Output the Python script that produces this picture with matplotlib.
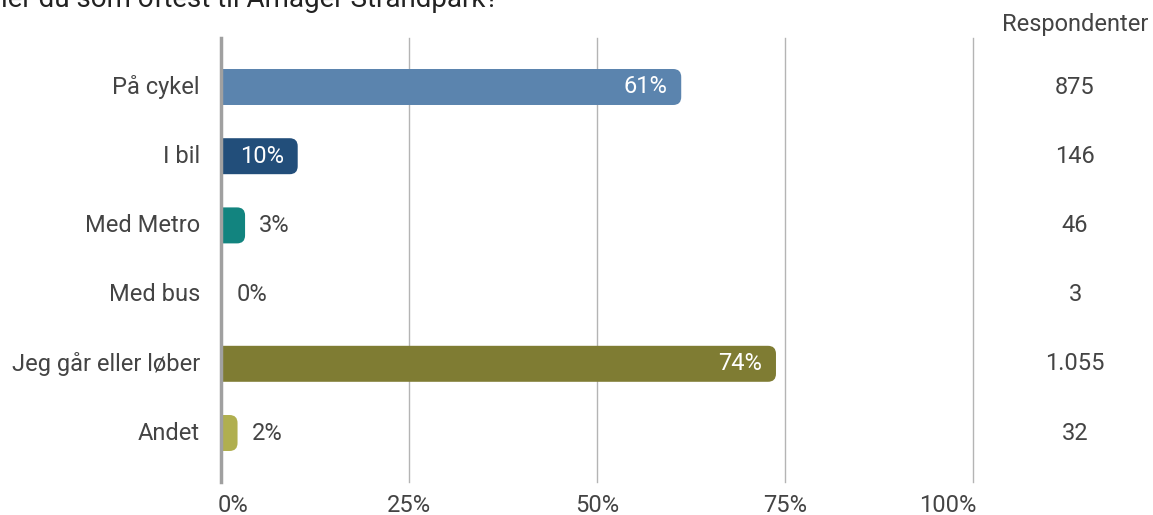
import matplotlib.pyplot as plt
from matplotlib.patches import FancyBboxPatch

plt.rcParams['font.family'] = ['Roboto', 'DejaVu Sans']

# Data
categories = ['På cykel', 'I bil', 'Med Metro', 'Med bus', 'Jeg går eller løber', 'Andet']
percent = [61.2, 10.2, 3.2, 0.2, 73.8, 2.2]
respondents = [875, 146, 46, 3, 1055, 32]
bar_colors = ['#5b84ae', '#224e7a', '#12847f', '#5e8a9a', '#7f7c33', '#b0af4f']
x_ticks = [0, 25, 50, 75, 100]
x_tick_labels = ['0%', '25%', '50%', '75%', '100%']

text_col = '#444444'
fs = 17

fig = plt.figure(figsize=(11.53, 5.15), dpi=100)
ax = fig.add_axes([221 / 1153, 1 - 482 / 515, 752 / 1153, 444 / 515])
ax.set_xlim(0, 100)
ax.set_ylim(5.708, -0.708)

# pixels per data unit, used to keep corner rounding circular
px_x = 7.52
px_y = 69.2
r_px = 8
r_x = r_px / px_x
aspect = (r_px / px_y) / r_x
bar_h = 0.52

for i, (p, c) in enumerate(zip(percent, bar_colors)):
    x0 = -2 * r_x
    box = FancyBboxPatch((x0, i - bar_h / 2), p - x0, bar_h,
                         boxstyle=f'round,pad=0,rounding_size={r_x}',
                         mutation_aspect=aspect, facecolor=c, edgecolor='none',
                         zorder=2)
    ax.add_patch(box)
    label = f'{p:.0f}%'
    if p >= 8:
        ax.annotate(label, (p, i), xytext=(-10, 0), textcoords='offset points',
                    ha='right', va='center', color='white', fontsize=fs, zorder=3)
    else:
        ax.annotate(label, (max(p, 0), i), xytext=(10, 0), textcoords='offset points',
                    ha='left', va='center', color=text_col, fontsize=fs, zorder=3)

# grid lines
for t in x_ticks[1:]:
    ax.axvline(t, color='#b4b4b4', lw=1.0, zorder=1, clip_on=False)
ax.axvline(0, color='#a0a0a0', lw=2.5, zorder=4, clip_on=False)

for s in ax.spines.values():
    s.set_visible(False)
ax.set_xticks([])
ax.set_yticks([])

# category labels
for i, cat in enumerate(categories):
    ax.text(-2.8, i, cat, ha='right', va='center', fontsize=fs, color=text_col)

# x tick labels
aligns = ['left', 'center', 'center', 'center', 'right']
for t, lab, al in zip(x_ticks, x_tick_labels, aligns):
    xt = t - 0.4 if al == 'left' else t + 0.4 if al == 'right' else t
    ax.text(xt, 6.05, lab, ha=al, va='center', fontsize=fs, color=text_col)

# respondent column
fig.text(1075 / 1153, 1 - 25 / 515, 'Respondenter',
         ha='center', va='center', fontsize=fs, color=text_col)
for i, n in enumerate(respondents):
    fig.text(1075 / 1153, 1 - (87 + i * px_y) / 515, f'{n:,}'.replace(',', '.'),
             ha='center', va='center', fontsize=fs, color=text_col)

# cut-off title at top
fig.text(0.001, 1 + 1 / 515, 'ler du som oftest til Amager Strandpark?',
         ha='left', va='center', fontsize=20, color='#222222')

fig.savefig('out.png', dpi=100)
